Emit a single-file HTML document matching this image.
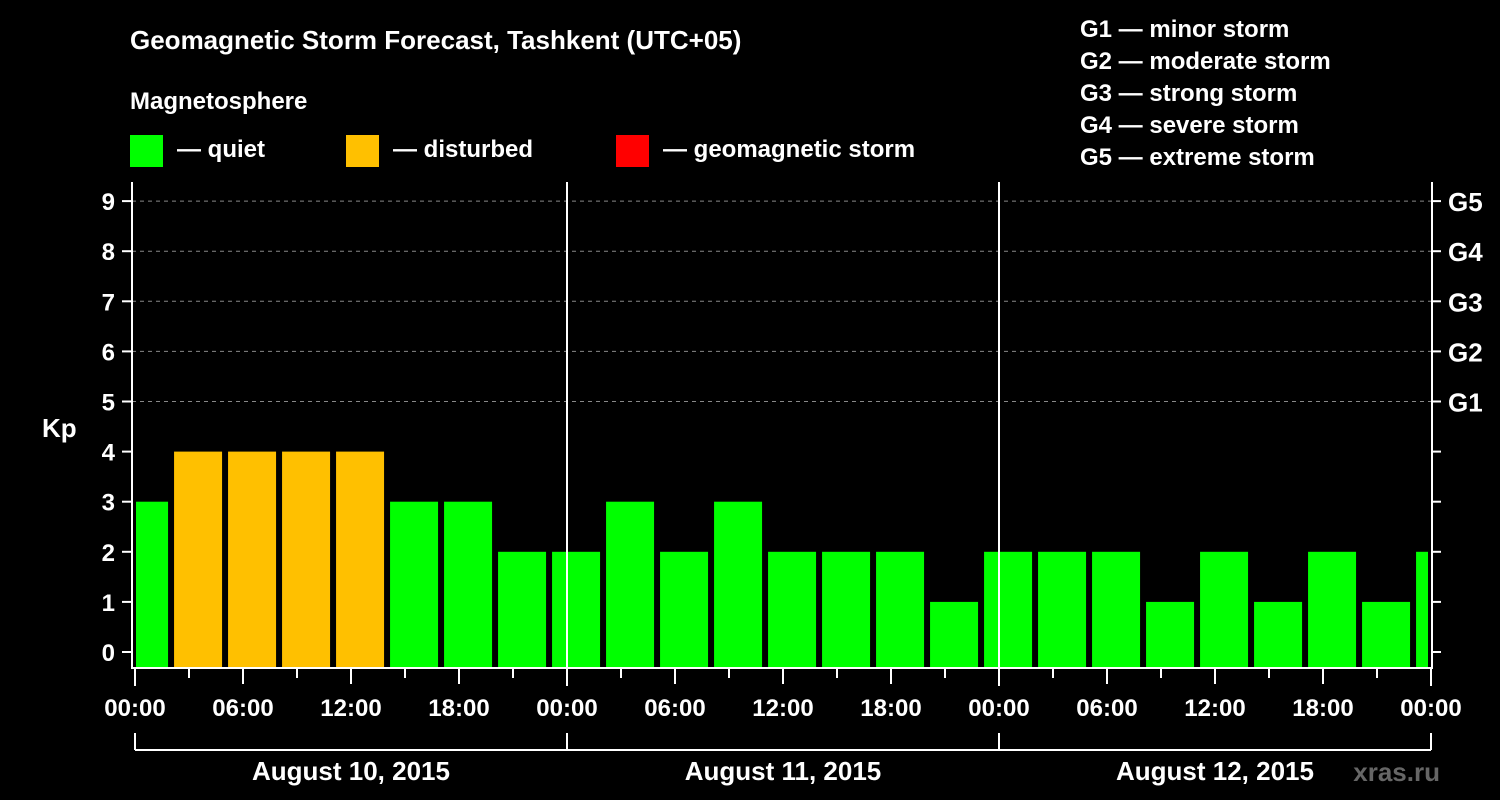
<!DOCTYPE html>
<html><head><meta charset="utf-8"><style>
body{margin:0;background:#000;width:1500px;height:800px;overflow:hidden}
svg{display:block}
text{font-family:"Liberation Sans",Arial,sans-serif;font-weight:bold;fill:#fff}
</style></head><body>
<svg id="c" width="1500" height="800">
<text x="130" y="49" font-size="26">Geomagnetic Storm Forecast, Tashkent (UTC+05)</text>
<text x="130" y="109" font-size="24">Magnetosphere</text>
<g><rect x="130" y="135" width="33" height="32" fill="#00ff00"/><text x="177" y="157" font-size="24">— quiet</text></g>
<g><rect x="346" y="135" width="33" height="32" fill="#ffc000"/><text x="393" y="157" font-size="24">— disturbed</text></g>
<g><rect x="616" y="135" width="33" height="32" fill="#ff0000"/><text x="663" y="157" font-size="24">— geomagnetic storm</text></g>
<g font-size="24">
<text x="1080" y="37">G1 — minor storm</text>
<text x="1080" y="69">G2 — moderate storm</text>
<text x="1080" y="101">G3 — strong storm</text>
<text x="1080" y="133">G4 — severe storm</text>
<text x="1080" y="165">G5 — extreme storm</text>
</g>
<text x="42" y="437" font-size="26">Kp</text>
<text x="1440" y="781" font-size="26" fill="#666" style="fill:#666" text-anchor="end">xras.ru</text>
<g id="grid"></g><g id="bars"></g><g id="axes"></g>
</svg>
<script>
const values=[3,4,4,4,4,3,3,2,2,3,2,3,2,2,2,1,2,2,2,1,2,1,2,1,2];
const levels=[0,1,2,3,4,5,6,7,8,9];
const gLabels=["G1","G2","G3","G4","G5"];
const hourLabels=["00:00","06:00","12:00","18:00"];
const days=["August 10, 2015","August 11, 2015","August 12, 2015"];
const NS="http://www.w3.org/2000/svg";
const X0=135,PXH=18,LEFT=132,RIGHT=1432,TOP=182,BOT=668;
const xS=h=>X0+h*PXH;
const yS=v=>652-v*50.1;
function el(t,a,p){const e=document.createElementNS(NS,t);for(const k in a)e.setAttribute(k,a[k]);document.getElementById(p).appendChild(e);return e;}
// grid
levels.forEach(v=>{
 if(v>=5){const g=el('line',{x1:LEFT,x2:RIGHT,y1:yS(v),y2:yS(v),stroke:'#888','stroke-dasharray':'4,4','stroke-width':1},'grid');
 
 }
 const t=el('line',{x1:LEFT-10,x2:LEFT,y1:yS(v),y2:yS(v),stroke:'#fff','stroke-width':2},'axes');
 
 
 const t2=el('line',{x1:RIGHT,x2:RIGHT+9,y1:yS(v),y2:yS(v),stroke:'#fff','stroke-width':2},'axes');
 
 
 const l=el('text',{x:LEFT-17,y:yS(v)+9,'font-size':24,'text-anchor':'end'},'axes');l.textContent=v;
 
 
});
gLabels.forEach((g,i)=>{const l=el('text',{x:1448,y:yS(5+i)+10,'font-size':26},'axes');l.textContent=g;
 
 });
// bars
values.forEach((v,i)=>{
 let x1=xS(i*3-0.83),x2=x1+48;
 x1=Math.max(x1,LEFT+4);x2=Math.min(x2,RIGHT-4);
 if(x2<=x1)return;
 const c=v>=5?'#ff0000':(v>=4?'#ffc000':'#00ff00');
 const b=el('rect',{x:x1,y:yS(v),width:x2-x1,height:BOT-yS(v),fill:c},'bars');
 
 
});
// frame
const f=el('path',{d:`M${LEFT},${TOP}V${BOT}H${RIGHT}V${TOP}`,stroke:'#fff','stroke-width':2,fill:'none'},'axes');


for(let d=1;d<days.length;d++){const l=el('line',{x1:xS(d*24),x2:xS(d*24),y1:TOP,y2:BOT,stroke:'#fff','stroke-width':2},'axes');
 
 }
for(let h=0;h<=72;h+=3){
 const major=h%6===0;
 const t=el('line',{x1:xS(h),x2:xS(h),y1:BOT,y2:BOT+(h%24===0?18:(major?16:10)),stroke:'#fff','stroke-width':2},'axes');
 
 
 if(major){const l=el('text',{x:xS(h),y:716,'font-size':24,'text-anchor':'middle'},'axes');l.textContent=hourLabels[(h/6)%4];
 
 }
}
const br=el('line',{x1:xS(0),x2:xS(72),y1:750,y2:750,stroke:'#fff','stroke-width':2},'axes');


for(let d=0;d<=days.length;d++){const l=el('line',{x1:xS(d*24),x2:xS(d*24),y1:733,y2:750,stroke:'#fff','stroke-width':2},'axes');
 
 }
days.forEach((d,i)=>{const l=el('text',{x:xS(i*24+12),y:780,'font-size':26,'text-anchor':'middle'},'axes');l.textContent=d;
 
 });
</script>
</body></html>
